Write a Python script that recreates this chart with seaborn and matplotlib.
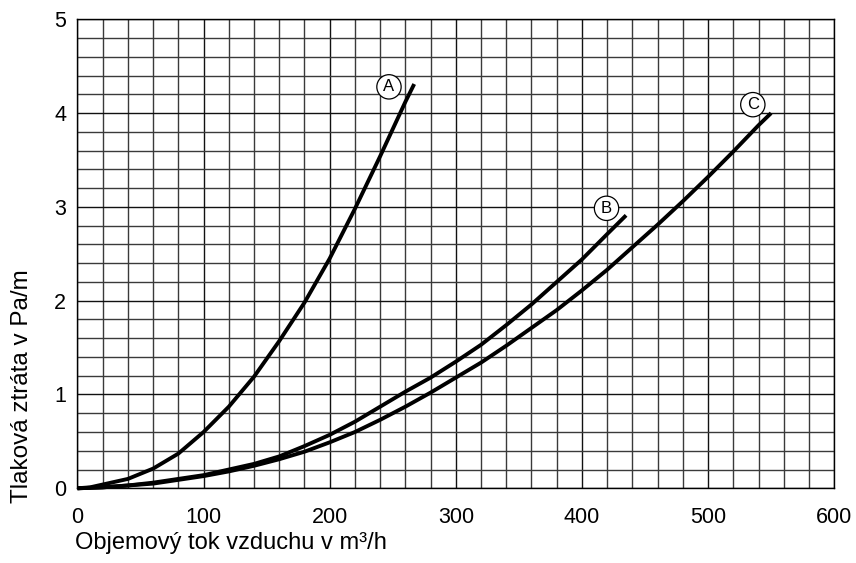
import matplotlib
matplotlib.use("Agg")
import matplotlib.pyplot as plt
from matplotlib.ticker import MultipleLocator
import pandas as pd
import seaborn as sns

# curve A
a_flow = [0, 10, 20, 40, 60, 80, 100, 120, 140, 160, 180, 200, 220, 240, 260, 267]
a_loss = [0, 0.01, 0.04, 0.1, 0.21, 0.37, 0.6, 0.87, 1.19, 1.57, 1.98, 2.45, 2.98, 3.54, 4.12, 4.31]
# curve B
b_flow = [0, 20, 40, 60, 80, 100, 120, 140, 160, 180, 200, 220, 240, 260, 280,
          300, 320, 340, 360, 380, 400, 420, 435]
b_loss = [0, 0.01, 0.03, 0.06, 0.1, 0.14, 0.2, 0.26, 0.34, 0.45, 0.57, 0.71, 0.87, 1.03, 1.18,
          1.35, 1.53, 1.74, 1.96, 2.2, 2.44, 2.71, 2.91]
# curve C
c_flow = [0, 20, 40, 60, 80, 100, 120, 140, 160, 180, 200, 220, 240, 260, 280,
          300, 320, 340, 360, 380, 400, 420, 440, 460, 480, 500, 520, 540, 550]
c_loss = [0, 0.01, 0.03, 0.05, 0.09, 0.13, 0.18, 0.24, 0.31, 0.39, 0.49, 0.6, 0.73, 0.87, 1.02,
          1.18, 1.34, 1.52, 1.71, 1.9, 2.11, 2.33, 2.57, 2.81, 3.06, 3.32, 3.59, 3.87, 4.0]

curve_names = ["A", "B", "C"]
label_x = [247, 419.5, 535.5]
label_y = [4.28, 2.985, 4.09]

x_ticks = [0, 100, 200, 300, 400, 500, 600]
y_ticks = [0, 1, 2, 3, 4, 5]

frames = []
for name, flow, loss in zip(curve_names, [a_flow, b_flow, c_flow], [a_loss, b_loss, c_loss]):
    frames.append(pd.DataFrame({"flow": flow, "loss": loss, "curve": name}))
df = pd.concat(frames, ignore_index=True)

sns.set_style("white")
plt.rcParams["font.family"] = ["Liberation Sans", "DejaVu Sans"]
plt.rcParams["text.color"] = "black"
plt.rcParams["axes.labelcolor"] = "black"
plt.rcParams["xtick.color"] = "black"
plt.rcParams["ytick.color"] = "black"

fig = plt.figure(figsize=(8.56, 5.63), dpi=100)
ax = fig.add_axes([0.0905, 0.1327, 0.884, 0.833])

ax.xaxis.set_major_locator(MultipleLocator(100))
ax.xaxis.set_minor_locator(MultipleLocator(20))
ax.yaxis.set_major_locator(MultipleLocator(1))
ax.yaxis.set_minor_locator(MultipleLocator(0.2))
ax.grid(which="major", color="#111111", linewidth=1.0)
ax.grid(which="minor", color="#3a3a3a", linewidth=1.0)
ax.set_axisbelow(True)

for name in curve_names:
    sub = df[df["curve"] == name]
    sns.lineplot(data=sub, x="flow", y="loss", ax=ax, color="black",
                 linewidth=2.8, sort=True, estimator=None, clip_on=False,
                 solid_capstyle="butt")

for name, x, y in zip(curve_names, label_x, label_y):
    ax.text(x, y, name, fontsize=12, ha="center", va="center",
            bbox=dict(boxstyle="circle,pad=0.28", fc="white", ec="black", lw=0.9))

ax.set_xlim(0, 600)
ax.set_ylim(0, 5)
ax.set_xticks(x_ticks)
ax.set_yticks(y_ticks)
ax.tick_params(axis="both", which="both", length=0, labelsize=15.5, labelcolor="black")
ax.tick_params(axis="x", pad=13.5)
ax.tick_params(axis="y", pad=8)
for spine in ax.spines.values():
    spine.set_color("black")
    spine.set_linewidth(1.0)

ax.set_xlabel("Objemový tok vzduchu v m³/h", fontsize=17, loc="left", color="black")
ax.set_ylabel("Tlaková ztráta v Pa/m", fontsize=17.5, loc="bottom", color="black")
ax.yaxis.set_label_coords(-0.059, -0.031)
ax.xaxis.set_label_coords(-0.003, -0.094)
ax.xaxis.label.set_verticalalignment("top")

fig.savefig("out.png", dpi=100)
